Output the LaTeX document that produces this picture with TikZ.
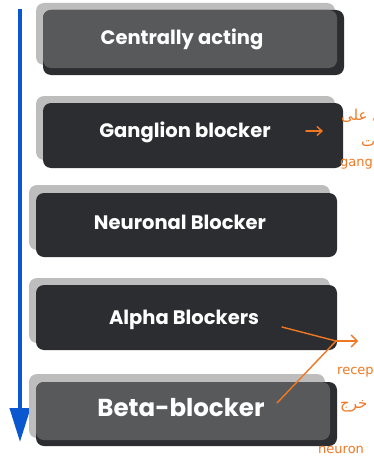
\documentclass[tikz,border=0pt]{standalone}
\usepackage{fontspec}
\setmainfont{Poppins}
\newfontfamily\notefont{DejaVu Sans}
\newfontfamily\arabicfont[Script=Arabic]{DejaVu Sans}
\TeXXeTstate=1
\usetikzlibrary{arrows.meta}
\definecolor{cBlue}{HTML}{0B57D0}
\definecolor{cOrange}{HTML}{F07823}
\definecolor{cShade}{HTML}{BDBDBD}
\definecolor{cDark}{HTML}{2B2D30}
\definecolor{cMid}{HTML}{58595B}
\tikzset{
  shade/.style={fill=cShade, rounded corners=8pt},
  base/.style={fill=cDark, rounded corners=8pt},
  face/.style={fill=cMid, rounded corners=8pt},
  boxtext/.style={text=white, font=\bfseries\fontsize{19.5}{22}\selectfont, inner sep=0pt},
  note/.style={text=cOrange, font=\notefont\fontsize{13}{14}\selectfont, anchor=west, inner sep=0pt},
  arnote/.style={note, font=\arabicfont\fontsize{15}{16}\selectfont},
  hand/.style={draw=cOrange, line width=1.4pt, line cap=round},
  flow/.style={draw=cBlue, line width=4pt, -{Triangle[length=34pt, width=20pt]}},
}

\begin{document}
\begin{tikzpicture}[x=1pt, y=-1pt]
    \useasboundingbox[fill=white] (0,0) rectangle (374,460);
    \clip (0,0) rectangle (374,460);
    % order arrow
    \coordinate (top) at (20,9);
    \coordinate (bot) at (20,442);
    \draw[flow] (top) -- (bot);
    % centrally acting
    \fill[shade] (36,3) rectangle (335,65);
    \fill[base] (43,10) rectangle (344,75);
    \fill[face] (43,10) rectangle (337,68);
    \node[boxtext] (cen) at (182,39) {Centrally acting};
    % ganglion blocker
    \fill[shade] (36,96) rectangle (335,160);
    \fill[base] (43,103) rectangle (343,168);
    \node[boxtext] (gan) at (185,132) {Ganglion blocker};
    % neuronal blocker
    \fill[shade] (29,185) rectangle (330,250);
    \fill[base] (36,193) rectangle (337,257);
    \node[boxtext] (neu) at (180,222) {Neuronal Blocker};
    % alpha blockers
    \fill[shade] (29,278) rectangle (330,343);
    \fill[base] (36,285) rectangle (337,350);
    \node[boxtext] (alp) at (184,320) {Alpha Blockers};
    % beta-blocker
    \fill[shade] (29,374) rectangle (325,438);
    \fill[base] (36,382) rectangle (337,446);
    \fill[face] (36,382) rectangle (330,440);
    \node[boxtext, font=\bfseries\fontsize{24.5}{26}\selectfont] (bet) at (181,408) {Beta-blocker};
    % notes
    \coordinate (gTail) at (306,131);
    \coordinate (gTip) at (323,131);
    \draw[hand, -{Straight Barb[length=5pt, width=9pt]}] (gTail) -- (gTip);
    \coordinate (aEnd) at (282,327);
    \coordinate (bEnd) at (277,403);
    \coordinate (fork) at (336,341);
    \coordinate (rTip) at (358,341);
    \draw[hand] (aEnd) -- (fork);
    \draw[hand] (bEnd) -- (fork);
    \draw[hand, -{Straight Barb[length=6pt, width=12pt]}] (fork) -- (rTip);
    \node[arnote] (nAr1) at (341,116) {\beginR ل على\endR};
    \node[arnote] (nAr2) at (361,144) {\beginR ت\endR};
    \node[note] (nGan) at (340,164) {gang};
    \node[note] (nRec) at (337,372) {recep};
    \node[arnote] (nAr3) at (340,406) {\beginR خرج\endR};
    \node[note] (nNeu) at (318,450) {neuron};
\end{tikzpicture}
\end{document}
